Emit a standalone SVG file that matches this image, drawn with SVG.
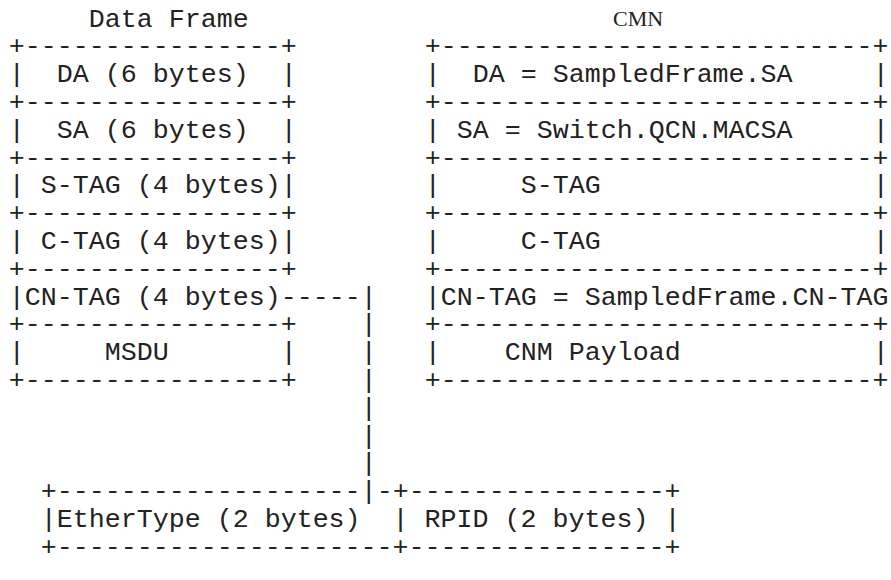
<svg xmlns="http://www.w3.org/2000/svg" width="891" height="580" viewBox="0 0 891 580" xml:space="preserve">
<style>
.t{font-family:"Liberation Mono","Courier New",monospace;font-size:26.67px;fill:#222;white-space:pre}
.s{font-family:"Liberation Serif","Times New Roman",serif;font-size:22px;fill:#222}
</style>
<rect width="891" height="580" fill="#fff"/>
<g id="data-frame" class="t">
<text xml:space="preserve" x="88.7" y="26.5">Data Frame</text>
<text xml:space="preserve" x="8.7" y="54.3">+----------------+</text>
<text xml:space="preserve" x="8.7" y="82.1">|  DA (6 bytes)  |</text>
<text xml:space="preserve" x="8.7" y="109.9">+----------------+</text>
<text xml:space="preserve" x="8.7" y="137.7">|  SA (6 bytes)  |</text>
<text xml:space="preserve" x="8.7" y="165.5">+----------------+</text>
<text xml:space="preserve" x="8.7" y="193.3">| S-TAG (4 bytes)|</text>
<text xml:space="preserve" x="8.7" y="221.1">+----------------+</text>
<text xml:space="preserve" x="8.7" y="248.9">| C-TAG (4 bytes)|</text>
<text xml:space="preserve" x="8.7" y="276.7">+----------------+</text>
<text xml:space="preserve" x="8.7" y="304.5">|CN-TAG (4 bytes)</text>
<text xml:space="preserve" x="8.7" y="332.3">+----------------+</text>
<text xml:space="preserve" x="8.7" y="360.1">|     MSDU       |</text>
<text xml:space="preserve" x="8.7" y="387.9">+----------------+</text>
</g>
<g id="cmn" class="t">
<text xml:space="preserve" class="s" x="613" y="26">CMN</text>
<text xml:space="preserve" x="424.7" y="54.3">+---------------------------+</text>
<text xml:space="preserve" x="424.7" y="82.1">|  DA = SampledFrame.SA</text>
<text xml:space="preserve" x="872.7" y="82.1">|</text>
<text xml:space="preserve" x="424.7" y="109.9">+---------------------------+</text>
<text xml:space="preserve" x="424.7" y="137.7">| SA = Switch.QCN.MACSA</text>
<text xml:space="preserve" x="872.7" y="137.7">|</text>
<text xml:space="preserve" x="424.7" y="165.5">+---------------------------+</text>
<text xml:space="preserve" x="424.7" y="193.3">|     S-TAG</text>
<text xml:space="preserve" x="872.7" y="193.3">|</text>
<text xml:space="preserve" x="424.7" y="221.1">+---------------------------+</text>
<text xml:space="preserve" x="424.7" y="248.9">|     C-TAG</text>
<text xml:space="preserve" x="872.7" y="248.9">|</text>
<text xml:space="preserve" x="424.7" y="276.7">+---------------------------+</text>
<text xml:space="preserve" x="424.7" y="304.5">|CN-TAG = SampledFrame.CN-TAG</text>
<text xml:space="preserve" x="424.7" y="332.3">+---------------------------+</text>
<text xml:space="preserve" x="424.7" y="360.1">|    CNM Payload</text>
<text xml:space="preserve" x="872.7" y="360.1">|</text>
<text xml:space="preserve" x="424.7" y="387.9">+---------------------------+</text>
</g>
<g id="ethertype-rpid" class="t">
<text xml:space="preserve" x="40.7" y="499.1">+-------------------</text>
<text xml:space="preserve" x="376.7" y="499.1">-+----------------+</text>
<text xml:space="preserve" x="40.7" y="526.9">|EtherType (2 bytes)  | RPID (2 bytes) |</text>
<text xml:space="preserve" x="40.7" y="554.7">+---------------------+----------------+</text>
</g>
<g id="connectors" class="t">
<text xml:space="preserve" x="280.7" y="304.5">-----|</text>
<text xml:space="preserve" x="360.7" y="332.3">|</text>
<text xml:space="preserve" x="360.7" y="360.1">|</text>
<text xml:space="preserve" x="360.7" y="387.9">|</text>
<text xml:space="preserve" x="360.7" y="415.7">|</text>
<text xml:space="preserve" x="360.7" y="443.5">|</text>
<text xml:space="preserve" x="360.7" y="471.3">|</text>
<text xml:space="preserve" x="360.7" y="499.1">|</text>
</g>
</svg>
